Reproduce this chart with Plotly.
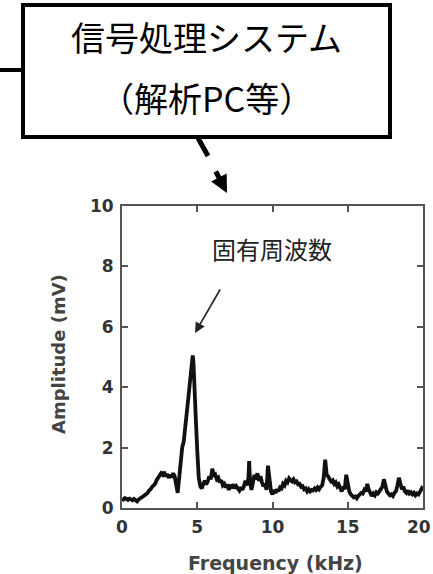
import plotly.graph_objects as go

# ---- data ----
freq_khz = [0.0,0.1,0.2,0.3,0.4,0.5,0.6,0.7,0.8,0.9,1.0,1.1,1.2,1.3,1.4,1.5,1.6,1.7,1.8,1.9,
            2.0,2.1,2.2,2.3,2.4,2.5,2.6,2.7,2.8,2.9,3.0,3.1,3.2,3.3,3.4,3.5,3.6,3.7,3.8,3.9,
            4.0,4.1,4.2,4.3,4.4,4.5,4.6,4.7,4.75,4.8,4.9,5.0,5.1,5.2,5.3,5.4,5.5,5.6,5.7,5.8,5.9,
            6.0,6.1,6.2,6.3,6.4,6.5,6.6,6.7,6.8,6.9,7.0,7.1,7.2,7.3,7.4,7.5,7.6,7.7,7.8,7.9,
            8.0,8.1,8.2,8.3,8.4,8.45,8.5,8.6,8.7,8.8,8.9,9.0,9.1,9.2,9.3,9.4,9.5,9.6,9.7,9.8,9.9,
            10.0,10.1,10.2,10.3,10.4,10.5,10.6,10.7,10.8,10.9,11.0,11.1,11.2,11.3,11.4,11.5,11.6,11.7,11.8,11.9,
            12.0,12.1,12.2,12.3,12.4,12.5,12.6,12.7,12.8,12.9,13.0,13.1,13.2,13.3,13.4,13.5,13.6,13.7,13.8,13.9,
            14.0,14.1,14.2,14.3,14.4,14.5,14.6,14.7,14.8,14.9,15.0,15.1,15.2,15.3,15.4,15.5,15.6,15.7,15.8,15.9,
            16.0,16.1,16.2,16.3,16.4,16.5,16.6,16.7,16.8,16.9,17.0,17.1,17.2,17.3,17.4,17.5,17.6,17.7,17.8,17.9,
            18.0,18.1,18.2,18.3,18.4,18.5,18.6,18.7,18.8,18.9,19.0,19.1,19.2,19.3,19.4,19.5,19.6,19.7,19.8,19.9,20.0]
amplitude_mv = [0.32,0.28,0.33,0.30,0.27,0.31,0.29,0.26,0.30,0.25,0.22,0.28,0.30,0.35,0.38,0.42,0.47,0.50,0.58,0.62,
                0.70,0.75,0.80,0.92,0.98,1.08,1.15,1.10,1.20,1.05,1.12,1.00,1.10,1.02,1.15,1.05,0.80,0.50,1.00,1.60,
                2.00,2.20,2.60,3.00,3.60,4.10,4.70,5.05,4.80,4.00,3.00,1.90,1.00,0.72,0.65,0.80,0.90,0.78,0.88,1.05,0.95,
                1.30,1.05,1.10,0.95,1.00,0.85,0.92,0.75,0.80,0.68,0.78,0.60,0.72,0.70,0.78,0.65,0.72,0.62,0.58,0.68,
                0.60,0.72,0.90,0.75,1.00,1.55,0.95,0.60,0.85,1.10,0.95,1.15,0.90,1.05,0.85,0.72,0.80,0.60,1.40,0.85,0.55,
                0.45,0.60,0.50,0.62,0.55,0.68,0.65,0.80,0.75,0.90,0.85,0.98,0.92,0.88,0.95,0.85,0.88,0.78,0.80,0.70,
                0.72,0.62,0.65,0.55,0.62,0.55,0.60,0.58,0.65,0.60,0.68,0.62,0.70,0.75,1.00,1.60,1.10,1.05,0.95,0.88,
                0.92,0.80,0.85,0.72,0.78,0.65,0.55,0.70,0.62,1.10,0.70,0.55,0.45,0.40,0.35,0.38,0.32,0.40,0.45,0.50,
                0.48,0.60,0.55,0.80,0.60,0.45,0.40,0.48,0.42,0.52,0.48,0.55,0.62,0.70,0.95,0.70,0.55,0.48,0.42,0.45,
                0.40,0.50,0.55,0.75,1.00,0.80,0.62,0.70,0.55,0.50,0.58,0.48,0.52,0.45,0.50,0.42,0.48,0.45,0.55,0.60,0.72]
x_ticks = [0, 5, 10, 15, 20]
x_tick_labels = ["0", "5", "10", "15", "20"]
y_ticks = [0, 2, 4, 6, 8, 10]

# ---- layout geometry ----
W, H = 433, 574
L, R, T, B = 122, 10, 206, 66
PW, PH = W - L - R, H - T - B

def px(xp):
    return (xp - L) / PW

def py(yp):
    return (H - B - yp) / PH

fig = go.Figure()
fig.add_trace(go.Scatter(x=freq_khz, y=amplitude_mv, mode="lines",
                         line=dict(color="#111111", width=3.8), hoverinfo="skip"))

tick_font = dict(family="DejaVu Sans", size=17, color="#333333", weight="bold")
axis_common = dict(showgrid=False, zeroline=False, showline=True, linecolor="#555555",
                   linewidth=2, mirror="ticks", ticks="inside", ticklen=6, tickwidth=1.5,
                   tickcolor="#555555", tickfont=tick_font, automargin=False,
                   ticklabeloverflow="allow")

# last x label is drawn separately so it stays inside the page
fig.update_layout(
    width=W, height=H, margin=dict(l=L, r=R, t=T, b=B, autoexpand=False),
    paper_bgcolor="white", plot_bgcolor="white", showlegend=False,
    xaxis=dict(range=[0, 20], tickvals=x_ticks,
               ticktext=x_tick_labels[:-1] + [""], ticklabelstandoff=3, **axis_common),
    yaxis=dict(range=[0, 10], tickvals=y_ticks, ticklabelstandoff=3, **axis_common),
)

shapes = []
shapes.append(dict(type="line", xref="paper", yref="paper",
                   x0=px(0), y0=py(70), x1=px(23), y1=py(70),
                   line=dict(color="black", width=4)))
shapes.append(dict(type="rect", xref="paper", yref="paper",
                   x0=px(23), y0=py(5), x1=px(390), y1=py(137),
                   line=dict(color="black", width=4), fillcolor="white"))
shapes.append(dict(type="line", xref="paper", yref="paper",
                   x0=px(198), y0=py(138), x1=px(208), y1=py(156),
                   line=dict(color="black", width=5)))
fig.update_layout(shapes=shapes)

def txt(xp, yp, text, font, **kw):
    d = dict(xref="paper", yref="paper", x=px(xp), y=py(yp), text=text,
             showarrow=False, xanchor="center", yanchor="middle", font=font)
    d.update(kw)
    return d

jp_big = dict(family="Noto Sans CJK JP", size=34, color="black")
annos = [
    txt(206, 37, "信号処理システム", jp_big),
    txt(206, 98, "（解析PC等）", jp_big),
    txt(272, 248, "固有周波数", dict(family="Noto Sans CJK JP", size=24, color="#222222")),
    txt(275, 563, "Frequency (kHz)", dict(family="DejaVu Sans", size=19, color="#444444", weight="bold")),
    txt(58, 354, "Amplitude (mV)", dict(family="DejaVu Sans", size=18, color="#444444", weight="bold"),
        textangle=-90),
    dict(xref="x", yref="paper", x=x_ticks[-1], y=py(527), text=x_tick_labels[-1],
         showarrow=False, xanchor="center", yanchor="middle", xshift=-4, font=tick_font),
]
annos.append(dict(xref="paper", yref="paper", x=px(227), y=py(193), text="",
                  showarrow=True, ax=-12, ay=-23, arrowhead=2, arrowsize=0.7,
                  arrowwidth=5, arrowcolor="black"))
annos.append(dict(xref="paper", yref="paper", x=px(195), y=py(333), text="",
                  showarrow=True, ax=26, ay=-45, arrowhead=2, arrowsize=1.3,
                  arrowwidth=1.6, arrowcolor="#222222"))
fig.update_layout(annotations=annos)

fig.write_html("out.html", config={"displayModeBar": False},
               post_script="document.body.style.margin='0';")
